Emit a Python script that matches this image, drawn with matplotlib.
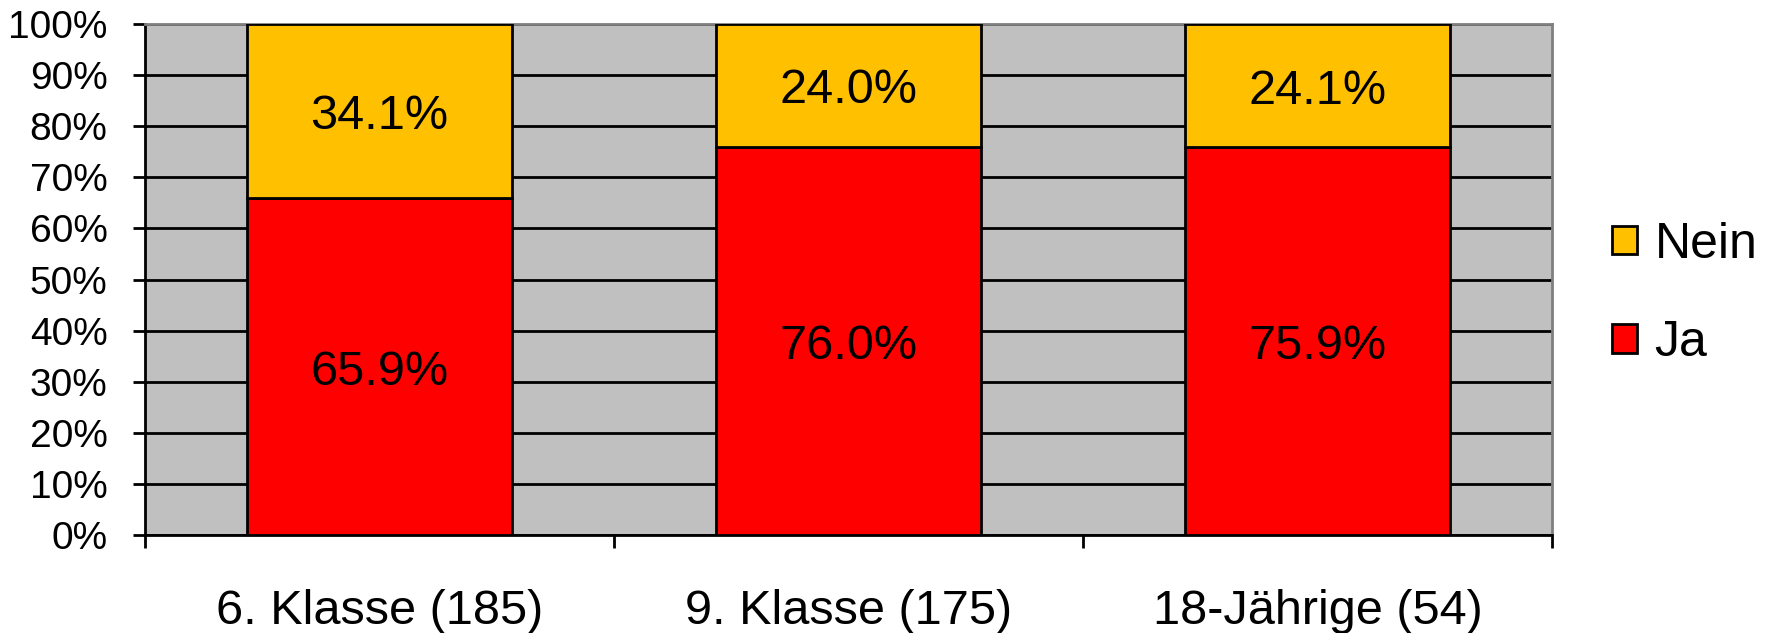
import matplotlib.pyplot as plt
from matplotlib.patches import Patch
from matplotlib.ticker import FixedLocator

plt.rcParams['font.family'] = ['Liberation Sans', 'DejaVu Sans']

# data
categories = ["6. Klasse (185)", "9. Klasse (175)", "18-Jährige (54)"]
ja = [65.9, 76.0, 75.9]
nein = [34.1, 24.0, 24.1]
yticks = list(range(0, 101, 10))

c_ja = '#FF0000'
c_nein = '#FFC000'
lw = 2.0

fig = plt.figure(figsize=(17.7, 6.33), dpi=100)
ax = fig.add_axes([145/1770, 98/633, 1407/1770, 511/633])
ax.set_facecolor('#C0C0C0')

x = range(len(categories))
w = 0.563
ax.bar(x, ja, w, color=c_ja, edgecolor='black', linewidth=lw, zorder=3)
ax.bar(x, nein, w, bottom=ja, color=c_nein, edgecolor='black', linewidth=lw, zorder=3)

# segment labels, nudged a little below the centre like the original
for i in x:
    ax.annotate(f"{ja[i]:.1f}%", (i, ja[i] / 2), xytext=(0, -4), textcoords='offset points',
                ha='center', va='center', fontsize=35, zorder=4)
    ax.annotate(f"{nein[i]:.1f}%", (i, ja[i] + nein[i] / 2), xytext=(0, -4), textcoords='offset points',
                ha='center', va='center', fontsize=35, zorder=4)

ax.set_xlim(-0.5, len(categories) - 0.5)
ax.set_ylim(0, 100)
ax.set_yticks(yticks)
ax.set_yticklabels([f"{v}%" for v in yticks], fontsize=28)
ax.yaxis.grid(True, color='black', linewidth=lw, zorder=1)
ax.set_axisbelow(True)

ax.set_xticks(list(x))
ax.set_xticklabels(categories, fontsize=35)
ax.tick_params(axis='x', which='major', length=0, pad=39)
ax.xaxis.set_minor_locator(FixedLocator([-0.5, 0.5, 1.5, 2.5]))
ax.tick_params(axis='x', which='minor', length=9, width=lw, direction='out')
ax.tick_params(axis='y', length=9, width=lw, direction='out', pad=18)

for s in ['left', 'bottom']:
    ax.spines[s].set_color('black')
    ax.spines[s].set_linewidth(lw)
for s in ['top', 'right']:
    ax.spines[s].set_color('#808080')
    ax.spines[s].set_linewidth(lw)

handles = [Patch(facecolor=c_nein, edgecolor='black', linewidth=lw, label='Nein'),
           Patch(facecolor=c_ja, edgecolor='black', linewidth=lw, label='Ja')]
fig.legend(handles=handles, loc='center left', bbox_to_anchor=(1612/1770, 1 - 294/633),
           frameon=False, fontsize=36, handlelength=0.5, handleheight=0.5,
           handletextpad=0.35, labelspacing=1.05, borderpad=0, borderaxespad=0)

fig.savefig('out.png', dpi=100)
